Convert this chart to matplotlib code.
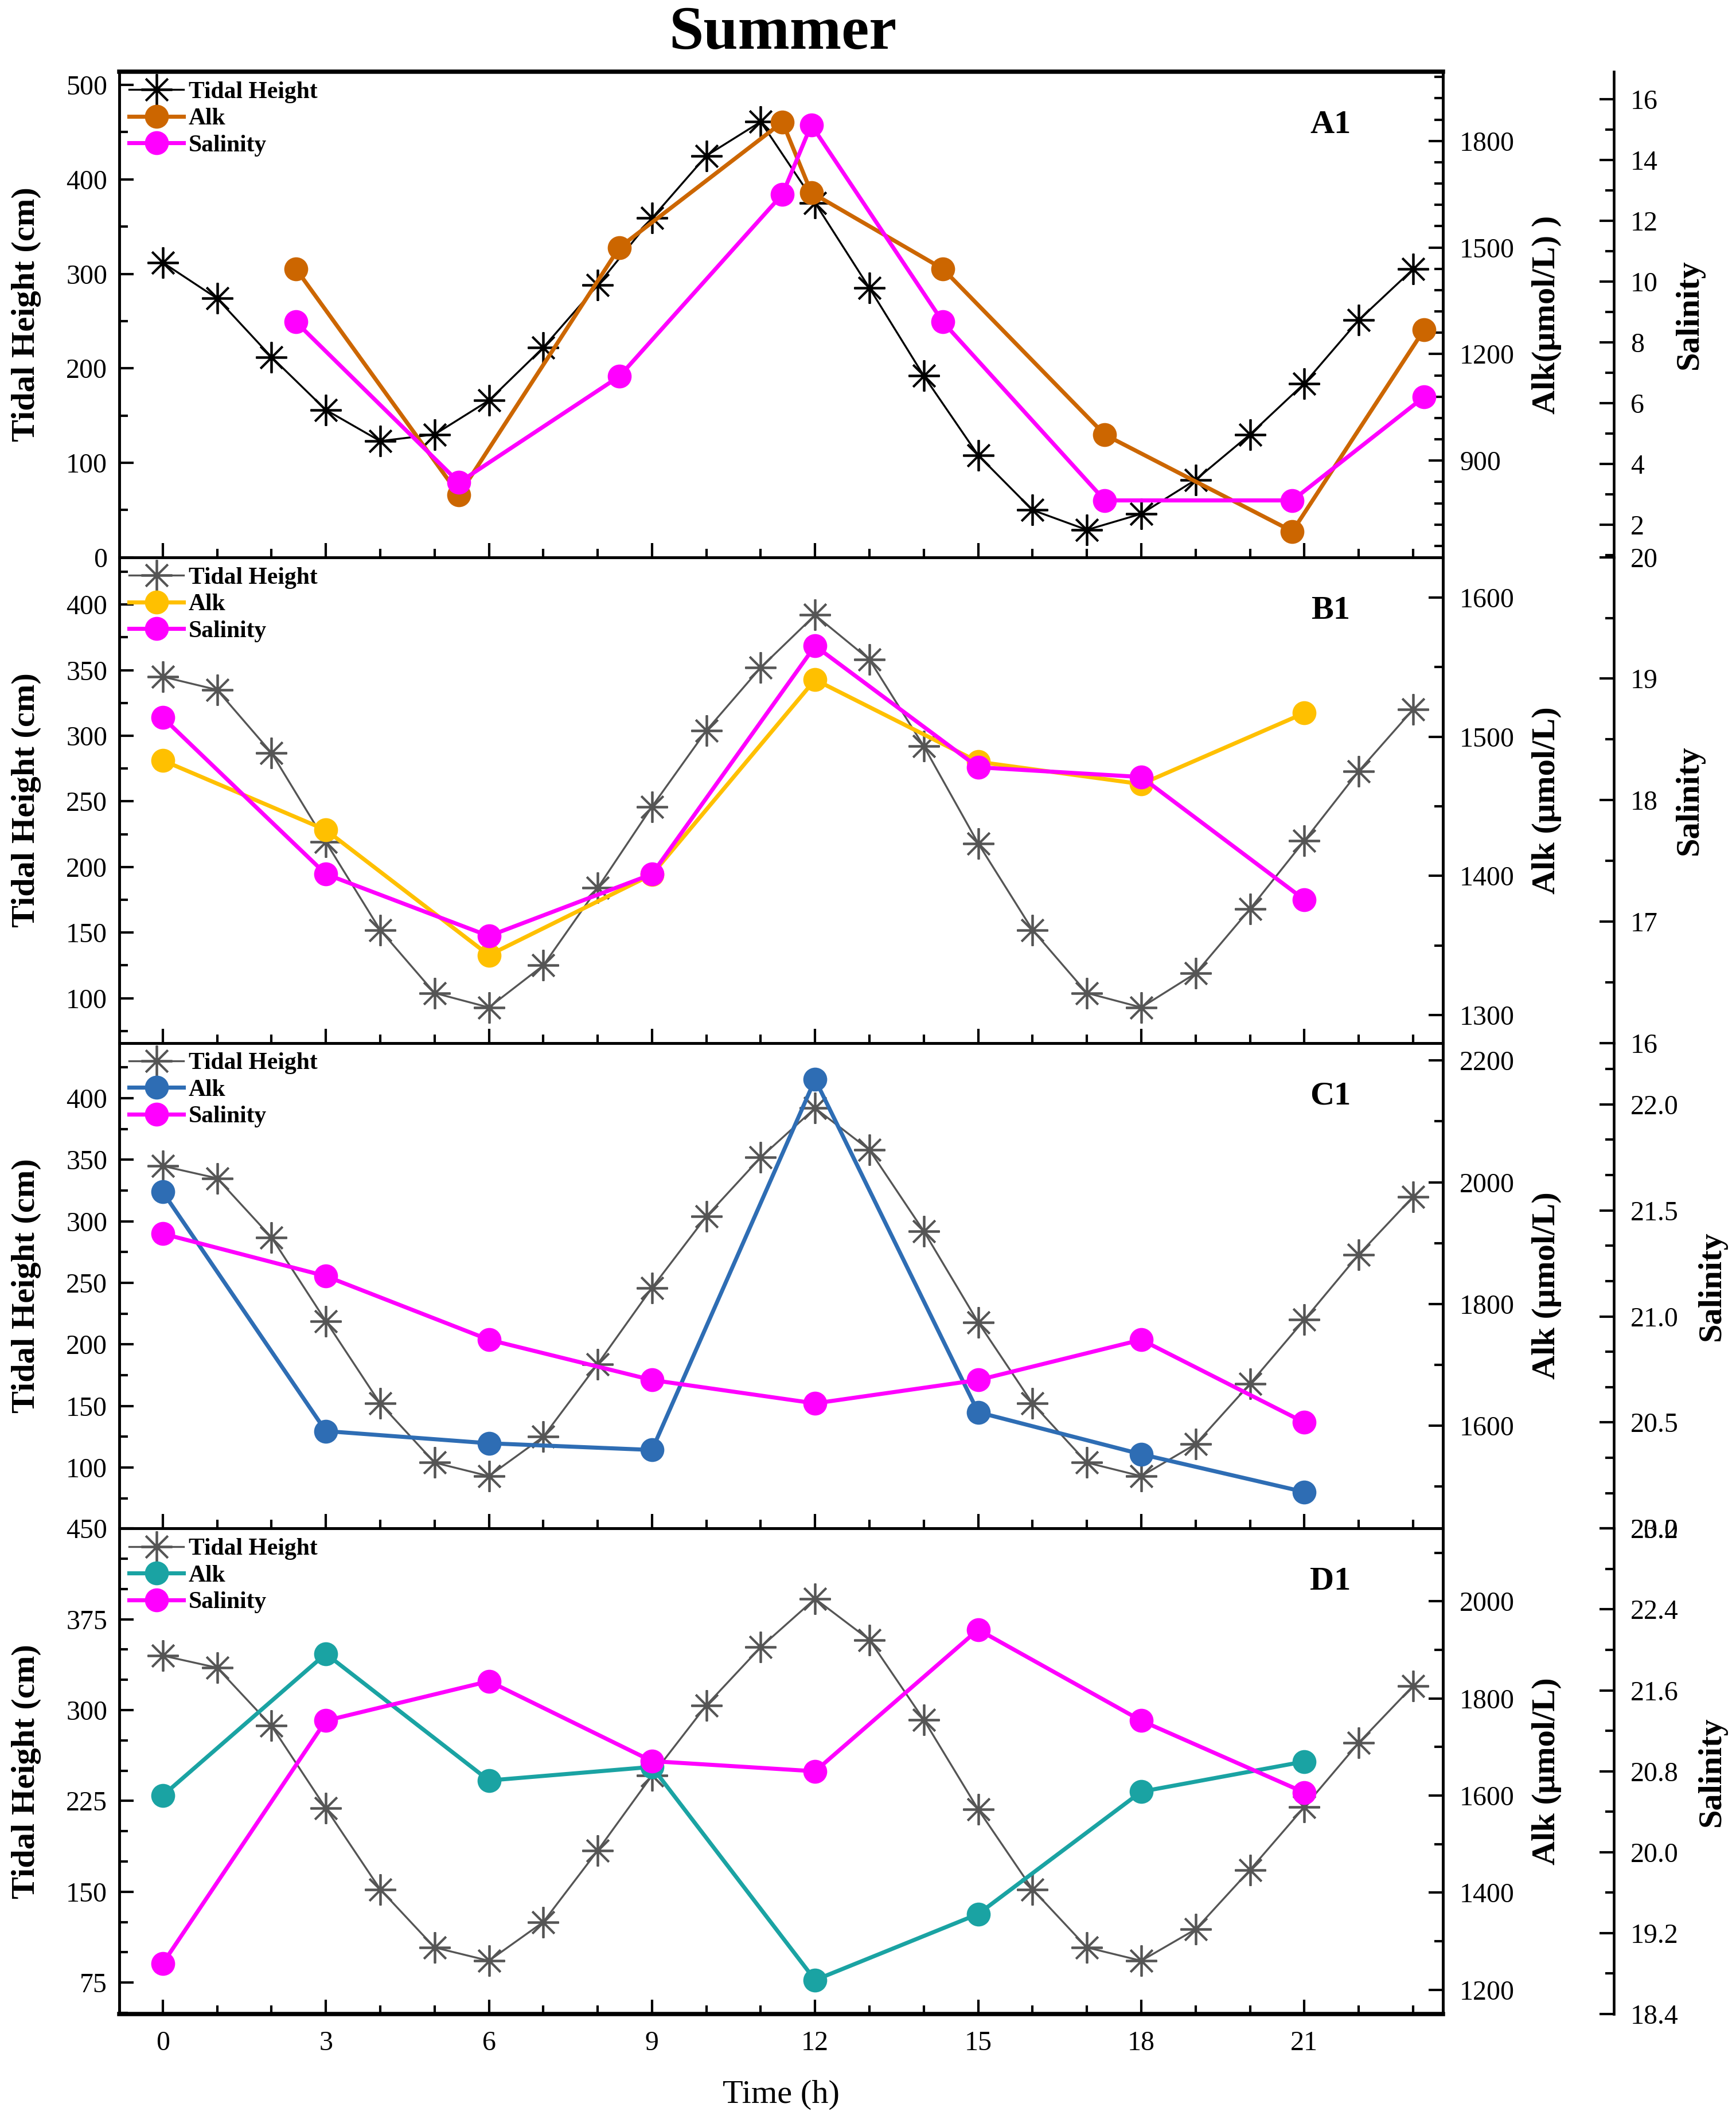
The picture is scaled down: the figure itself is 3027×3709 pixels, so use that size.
import numpy as np
import matplotlib.pyplot as plt
from matplotlib.ticker import MultipleLocator, AutoMinorLocator, FormatStrFormatter

plt.rcParams['font.family'] = ['Liberation Serif', 'DejaVu Serif']
plt.rcParams['mathtext.fontset'] = 'stix'

# ---- data ----
hours = list(range(24))
tide_a = [312, 274, 212, 156, 123, 130, 166, 222, 288, 359, 425, 461,
          375, 285, 192, 108, 50, 29, 46, 82, 130, 184, 251, 305]
tide_bcd = [345, 335, 287, 219, 152, 104, 93, 125, 184, 246, 304, 352,
            392, 358, 292, 218, 152, 104, 93, 119, 168, 220, 273, 320]

t_a = [2.45, 5.45, 8.4, 11.4, 11.93, 14.35, 17.33, 20.78, 23.2]
alk_a = [1440, 804, 1500, 1853, 1655, 1440, 973, 701, 1268]
sal_a = [8.67, 3.39, 6.88, 12.87, 15.15, 8.67, 2.8, 2.8, 6.2]

t_3h = [0, 3, 6, 9, 12, 15, 18, 21]
alk_b = [1483, 1433, 1343, 1401, 1541, 1482, 1466, 1517]
sal_b = [18.68, 17.39, 16.88, 17.39, 19.27, 18.27, 18.19, 17.18]

alk_c = [1984, 1591, 1571, 1560, 2169, 1622, 1553, 1491]
sal_c = [21.39, 21.19, 20.89, 20.70, 20.59, 20.70, 20.89, 20.50]

alk_d = [1600, 1892, 1631, 1659, 1220, 1356, 1608, 1670]
sal_d = [18.90, 21.30, 21.69, 20.90, 20.80, 22.20, 21.30, 20.59]

panels = [
    dict(name='A1', tide=tide_a, tcol='black', t=t_a, alk=alk_a, sal=sal_a, acol='#CC6600',
         ylim=(0, 514), ymaj=100, ymin=2,
         alim=(628, 1995), amaj=300, amin=5, alabel='Alk(μmol/L) )',
         slim=(0.93, 16.9), smaj=2, smin=2, sfmt='%d', sx=1.175),
    dict(name='B1', tide=tide_bcd, tcol='#555555', t=t_3h, alk=alk_b, sal=sal_b, acol='#FFC000',
         ylim=(66, 436), ymaj=50, ymin=2,
         alim=(1280, 1629), amaj=100, amin=2, alabel='Alk (μmol/L)',
         slim=(16, 20), smaj=1, smin=2, sfmt='%d', sx=1.175),
    dict(name='C1', tide=tide_bcd, tcol='#555555', t=t_3h, alk=alk_c, sal=sal_c, acol='#2E6DB4',
         ylim=(50.5, 445), ymaj=50, ymin=2,
         alim=(1431, 2229), amaj=200, amin=2, alabel='Alk (μmol/L)',
         slim=(20.0, 22.29), smaj=0.5, smin=3, sfmt='%.1f', sx=1.192),
    dict(name='D1', tide=tide_bcd, tcol='#555555', t=t_3h, alk=alk_d, sal=sal_d, acol='#1AA3A3',
         ylim=(49, 450), ymaj=75, ymin=3,
         alim=(1150, 2150), amaj=200, amin=2, alabel='Alk (μmol/L)',
         slim=(18.4, 23.2), smaj=0.8, smin=2, sfmt='%.1f', sx=1.192),
]

fig = plt.figure(figsize=(3027 / 300, 3709 / 300), dpi=300)

left, width = 0.0687, 0.7625
top, bottom = 0.9663, 0.0531
h = (top - bottom) / 4

tick_kw = dict(direction='in', labelsize=11.5, width=1.0)

for i, p in enumerate(panels):
    ax = fig.add_axes([left, top - (i + 1) * h, width, h])
    ax2 = ax.twinx()
    ax3 = ax.twinx()
    ax3.spines['right'].set_position(('axes', 1.129))
    for s in ['top', 'bottom', 'left']:
        ax3.spines[s].set_visible(False)

    l1, = ax.plot(hours, p['tide'], color=p['tcol'], lw=0.8, marker=(8, 2, 0),
                  ms=13, mew=0.9, label='Tidal Height')
    l2, = ax2.plot(p['t'], p['alk'], color=p['acol'], lw=1.7, marker='o', ms=9,
                   label='Alk')
    l3, = ax3.plot(p['t'], p['sal'], color='#FF00FF', lw=1.7, marker='o', ms=9,
                   label='Salinity')

    ax.set_xlim(-0.8, 23.55)
    ax.xaxis.set_major_locator(MultipleLocator(3))
    ax.xaxis.set_minor_locator(MultipleLocator(1))
    ax.set_ylim(*p['ylim'])
    ax.yaxis.set_major_locator(MultipleLocator(p['ymaj']))
    ax.yaxis.set_minor_locator(AutoMinorLocator(p['ymin']))
    ax.tick_params(axis='both', which='major', length=6, **tick_kw)
    ax.tick_params(axis='both', which='minor', length=3.5, direction='in', width=1.0)
    ax.tick_params(axis='x', which='both', top=False, pad=7)
    ax.tick_params(axis='y', pad=5)
    if i < 3:
        ax.tick_params(axis='x', labelbottom=False)
    ax.set_ylabel('Tidal Height (cm)', fontsize=14, fontweight='bold')
    ax.yaxis.set_label_coords(-0.059, 0.5)

    ax2.set_ylim(*p['alim'])
    ax2.yaxis.set_major_locator(MultipleLocator(p['amaj']))
    ax2.yaxis.set_minor_locator(AutoMinorLocator(p['amin']))
    ax2.tick_params(axis='y', which='major', length=6, pad=7, **tick_kw)
    ax2.tick_params(axis='y', which='minor', length=3.5, direction='in', width=1.0)
    ax2.set_ylabel(p['alabel'], fontsize=14, fontweight='bold')
    ax2.yaxis.set_label_coords(1.067, 0.5)

    ax3.set_ylim(*p['slim'])
    ax3.yaxis.set_major_locator(MultipleLocator(p['smaj']))
    ax3.yaxis.set_minor_locator(AutoMinorLocator(p['smin']))
    ax3.yaxis.set_major_formatter(FormatStrFormatter(p['sfmt']))
    ax3.tick_params(axis='y', which='major', length=6, pad=7, **tick_kw)
    ax3.tick_params(axis='y', which='minor', length=3.5, direction='in', width=1.0)
    ax3.set_ylabel('Salinity', fontsize=14, fontweight='bold')
    ax3.yaxis.set_label_coords(p['sx'], 0.5)

    for a in (ax, ax2, ax3):
        for s in a.spines.values():
            s.set_linewidth(1.1)
    if i == 0:
        ax.spines['top'].set_linewidth(1.8)
    if i == 3:
        ax.spines['bottom'].set_linewidth(1.8)
        ax.set_xlabel('Time (h)', fontsize=14)
        ax.xaxis.set_label_coords(0.5, -0.135)
        for lab in ax.get_xticklabels():
            lab.set_fontsize(11.5)

    ax3.text(0.915, 0.89, p['name'], transform=ax3.transAxes, ha='center', va='center',
             fontsize=14, fontweight='bold')
    ax3.legend(handles=[l1, l2, l3], loc='upper left', frameon=False,
               prop={'weight': 'bold', 'size': 10}, handlelength=2.3,
               handletextpad=0.2, labelspacing=0.2, borderaxespad=0.2, borderpad=0.2)

fig.text(0.451, 0.984, 'Summer', ha='center', va='center', fontsize=26, fontweight='bold')

fig.savefig('out.png', dpi=300)
